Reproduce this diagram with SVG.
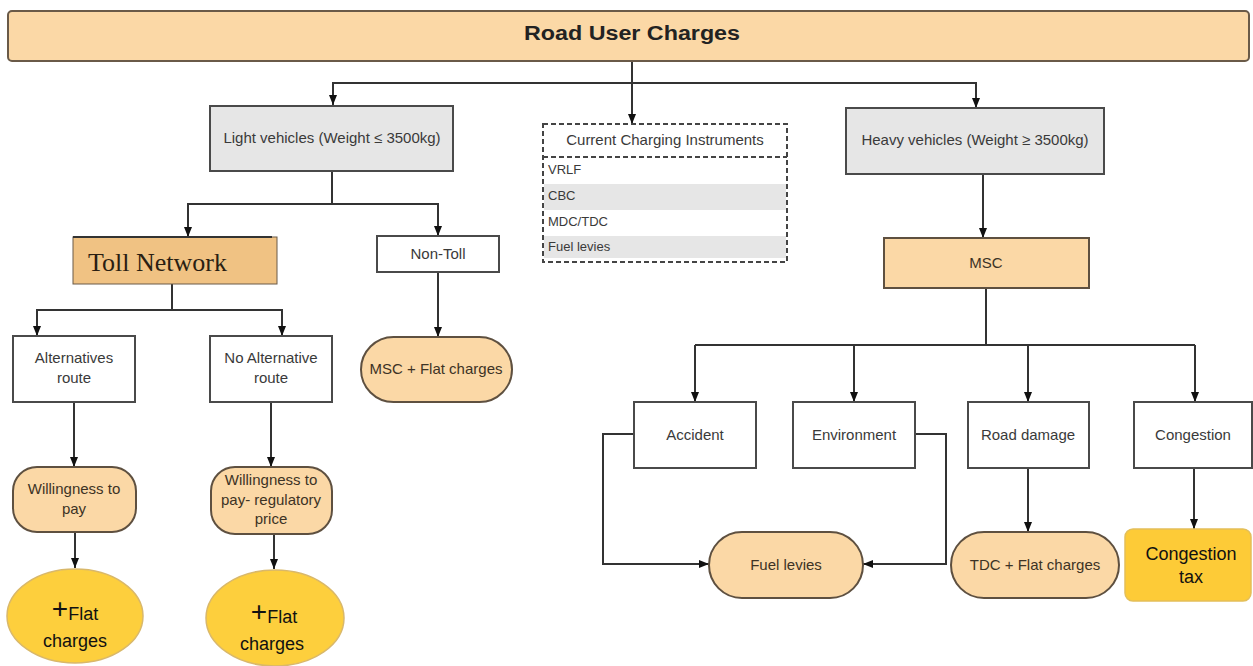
<svg xmlns="http://www.w3.org/2000/svg" width="1253" height="666" viewBox="0 0 1253 666">
  <defs>
    <marker id="arrow" viewBox="0 0 10 8" refX="10" refY="4" markerWidth="10" markerHeight="8" markerUnits="userSpaceOnUse" orient="auto">
      <path d="M0,0 L10,4 L0,8 z" fill="#111"/>
    </marker>
    <style>
      .box { stroke: #4a4a4a; stroke-width: 2; }
      .grey { fill: #e6e6e6; }
      .white { fill: #ffffff; }
      .peach { fill: #fbd8a6; stroke: #5e5040; stroke-width: 2; }
      .tan { fill: #f0c283; }
      .gold { fill: #fdcf3d; stroke: #d9b86a; stroke-width: 1.5; }
      .lbl { font-family: "Liberation Sans", Arial, sans-serif; font-size: 15px; fill: #3a3a3a; text-anchor: middle; }
      .lblp { font-family: "Liberation Sans", Arial, sans-serif; font-size: 15px; fill: #3d3325; text-anchor: middle; }
      .row { font-family: "Liberation Sans", Arial, sans-serif; font-size: 13px; fill: #3a3a3a; }
      .big { font-family: "Liberation Sans", Arial, sans-serif; font-size: 18px; fill: #111; text-anchor: middle; }
      .conn { fill: none; stroke: #333; stroke-width: 2; }
    </style>
  </defs>

  <rect width="1253" height="666" fill="#ffffff"/>

  <!-- connectors -->
  <g id="connectors" class="conn">
    <path d="M632,61 V83"/>
    <path d="M632,83 H333 V105" marker-end="url(#arrow)"/>
    <path d="M632,83 V124" marker-end="url(#arrow)"/>
    <path d="M632,83 H976 V108" marker-end="url(#arrow)"/>
    <!-- light vehicles branch -->
    <path d="M332,171 V204"/>
    <path d="M332,204 H188 V237" marker-end="url(#arrow)"/>
    <path d="M332,204 H438 V236" marker-end="url(#arrow)"/>
    <path d="M172,284 V310"/>
    <path d="M172,310 H37 V336" marker-end="url(#arrow)"/>
    <path d="M172,310 H282 V336" marker-end="url(#arrow)"/>
    <path d="M438,272 V337" marker-end="url(#arrow)"/>
    <path d="M74,402 V467" marker-end="url(#arrow)"/>
    <path d="M271,402 V467" marker-end="url(#arrow)"/>
    <path d="M75,532 V568" marker-end="url(#arrow)"/>
    <path d="M274,534 V569" marker-end="url(#arrow)"/>
    <!-- heavy vehicles branch -->
    <path d="M983,174 V238" marker-end="url(#arrow)"/>
    <path d="M986,288 V345"/>
    <path d="M695,345 H1195"/>
    <path d="M695,345 V402" marker-end="url(#arrow)"/>
    <path d="M854,345 V402" marker-end="url(#arrow)"/>
    <path d="M1028,345 V402" marker-end="url(#arrow)"/>
    <path d="M1195,345 V402" marker-end="url(#arrow)"/>
    <path d="M634,434 H603 V564 H709" marker-end="url(#arrow)"/>
    <path d="M915,434 H946 V564 H863" marker-end="url(#arrow)"/>
    <path d="M1028,468 V532" marker-end="url(#arrow)"/>
    <path d="M1194,468 V529" marker-end="url(#arrow)"/>
  </g>

  <!-- title -->
  <g id="title">
    <rect x="8" y="11" width="1241" height="50" rx="4" fill="#fbd8a6" stroke="#6a5a48" stroke-width="2"/>
    <text x="632" y="40" font-family="'Liberation Sans', Arial, sans-serif" font-size="20" font-weight="bold" fill="#222" text-anchor="middle" textLength="216" lengthAdjust="spacingAndGlyphs">Road User Charges</text>
  </g>

  <!-- light vehicles -->
  <g id="light-vehicles">
    <rect x="210" y="106" width="243" height="65" class="box grey"/>
    <text x="332" y="143" class="lbl">Light vehicles (Weight ≤ 3500kg)</text>
  </g>

  <!-- current charging instruments -->
  <g id="charging-instruments">
    <rect x="544" y="184" width="242" height="26" fill="#e6e6e6"/>
    <rect x="544" y="236" width="242" height="22" fill="#e6e6e6"/>
    <rect x="543" y="124" width="244" height="138" fill="none" stroke="#444" stroke-width="2" stroke-dasharray="5,3"/>
    <line x1="543" y1="157" x2="787" y2="157" stroke="#444" stroke-width="2" stroke-dasharray="5,3"/>
    <text x="665" y="145" class="lbl">Current Charging Instruments</text>
    <text x="548" y="174" class="row">VRLF</text>
    <text x="548" y="200" class="row">CBC</text>
    <text x="548" y="226" class="row">MDC/TDC</text>
    <text x="548" y="251" class="row">Fuel levies</text>
  </g>

  <!-- heavy vehicles -->
  <g id="heavy-vehicles">
    <rect x="846" y="108" width="258" height="66" class="box grey"/>
    <text x="975" y="145" class="lbl">Heavy vehicles (Weight ≥ 3500kg)</text>
  </g>

  <g id="toll-network">
    <rect x="73" y="237" width="204" height="47" class="tan" stroke="#6a5a48" stroke-width="1"/>
    <line x1="73" y1="237" x2="272" y2="237" stroke="#333" stroke-width="2"/>
    <text x="88" y="271" font-family="'Liberation Serif', 'Times New Roman', serif" font-size="26" fill="#2a1e12">Toll Network</text>
  </g>

  <g id="non-toll">
    <rect x="377" y="236" width="122" height="36" class="box white"/>
    <text x="438" y="259" class="lbl">Non-Toll</text>
  </g>

  <g id="alternatives-route">
    <rect x="13" y="336" width="122" height="66" class="box white"/>
    <text x="74" y="363" class="lbl">Alternatives</text>
    <text x="74" y="383" class="lbl">route</text>
  </g>

  <g id="no-alternative-route">
    <rect x="210" y="336" width="122" height="66" class="box white"/>
    <text x="271" y="363" class="lbl">No Alternative</text>
    <text x="271" y="383" class="lbl">route</text>
  </g>

  <g id="msc-flat">
    <rect x="361" y="337" width="151" height="65" rx="32.5" class="peach"/>
    <text x="436" y="374" class="lblp" font-size="14">MSC + Flat charges</text>
  </g>

  <g id="willingness-to-pay">
    <rect x="13" y="467" width="123" height="65" rx="24" class="peach"/>
    <text x="74" y="494" class="lblp">Willingness to</text>
    <text x="74" y="514" class="lblp">pay</text>
  </g>

  <g id="willingness-regulatory">
    <rect x="211" y="467" width="121" height="67" rx="24" class="peach"/>
    <text x="271" y="485" class="lblp">Willingness to</text>
    <text x="271" y="505" class="lblp">pay- regulatory</text>
    <text x="271" y="524" class="lblp">price</text>
  </g>

  <g id="flat-charges-1">
    <ellipse cx="75" cy="616" rx="68" ry="47" class="gold"/>
    <text x="75" y="618" class="big"><tspan font-size="28">+</tspan><tspan dy="2">Flat</tspan></text>
    <text x="75" y="647" class="big">charges</text>
  </g>

  <g id="flat-charges-2">
    <ellipse cx="275" cy="618" rx="69" ry="48" class="gold"/>
    <text x="274" y="621" class="big"><tspan font-size="28">+</tspan><tspan dy="2">Flat</tspan></text>
    <text x="272" y="650" class="big">charges</text>
  </g>

  <g id="msc">
    <rect x="884" y="238" width="205" height="50" class="peach"/>
    <text x="986" y="268" class="lblp">MSC</text>
  </g>

  <g id="accident">
    <rect x="634" y="402" width="122" height="66" class="box white"/>
    <text x="695" y="440" class="lbl">Accident</text>
  </g>

  <g id="environment">
    <rect x="793" y="402" width="122" height="66" class="box white"/>
    <text x="854" y="440" class="lbl">Environment</text>
  </g>

  <g id="road-damage">
    <rect x="968" y="402" width="121" height="66" class="box white"/>
    <text x="1028" y="440" class="lbl">Road damage</text>
  </g>

  <g id="congestion">
    <rect x="1134" y="402" width="118" height="66" class="box white"/>
    <text x="1193" y="440" class="lbl">Congestion</text>
  </g>

  <g id="fuel-levies">
    <rect x="709" y="532" width="154" height="66" rx="33" class="peach"/>
    <text x="786" y="570" class="lblp">Fuel levies</text>
  </g>

  <g id="tdc-flat">
    <rect x="951" y="532" width="168" height="66" rx="33" class="peach"/>
    <text x="1035" y="570" class="lblp">TDC + Flat charges</text>
  </g>

  <g id="congestion-tax">
    <rect x="1125" y="529" width="126" height="72" rx="8" fill="#fdcb37" stroke="#e3bf5a" stroke-width="1.5"/>
    <text x="1191" y="560" class="big">Congestion</text>
    <text x="1191" y="583" class="big">tax</text>
  </g>
</svg>
